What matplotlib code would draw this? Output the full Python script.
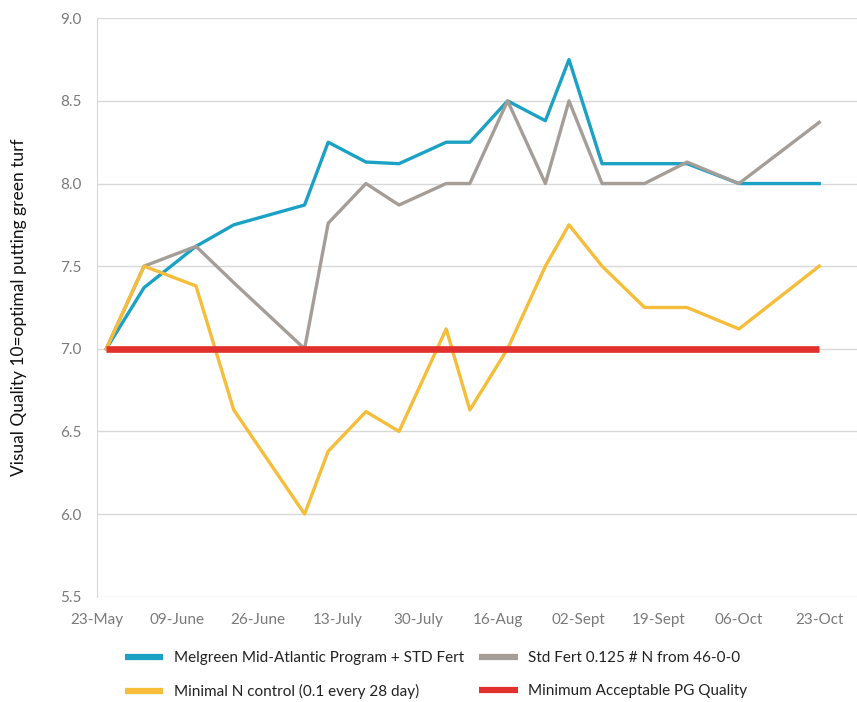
import matplotlib
matplotlib.use("Agg")
import matplotlib.pyplot as plt
import pandas as pd

# rating dates and visual quality ratings
dates = ["2016-05-25", "2016-06-02", "2016-06-13", "2016-06-21", "2016-07-06",
         "2016-07-11", "2016-07-19", "2016-07-26", "2016-08-05", "2016-08-10",
         "2016-08-18", "2016-08-26", "2016-08-31", "2016-09-07", "2016-09-16",
         "2016-09-25", "2016-10-06", "2016-10-23"]
melgreen = [7.0, 7.37, 7.62, 7.75, 7.87, 8.25, 8.13, 8.12, 8.25, 8.25,
            8.5, 8.38, 8.75, 8.12, 8.12, 8.12, 8.0, 8.0]
std_fert = [7.0, 7.5, 7.62, 7.4, 7.0, 7.76, 8.0, 7.87, 8.0, 8.0,
            8.5, 8.0, 8.5, 8.0, 8.0, 8.13, 8.0, 8.37]
minimal_n = [7.0, 7.5, 7.38, 6.63, 6.0, 6.38, 6.62, 6.5, 7.12, 6.63,
             7.0, 7.5, 7.75, 7.5, 7.25, 7.25, 7.12, 7.5]
min_acceptable = [7.0] * len(dates)

tick_dates = ["2016-05-23", "2016-06-09", "2016-06-26", "2016-07-13", "2016-07-30",
              "2016-08-16", "2016-09-02", "2016-09-19", "2016-10-06", "2016-10-23"]
tick_labels = ["23-May", "09-June", "26-June", "13-July", "30-July",
               "16-Aug", "02-Sept", "19-Sept", "06-Oct", "23-Oct"]
y_ticks = [5.5, 6.0, 6.5, 7.0, 7.5, 8.0, 8.5, 9.0]

labels = ["Melgreen Mid-Atlantic Program + STD Fert",
          "Std Fert 0.125 # N from 46-0-0",
          "Minimal N control (0.1 every 28 day)",
          "Minimum Acceptable PG Quality"]
colors = ["#1ba1c3", "#a49d98", "#f6bd3a", "#e2312c"]

plt.rcParams["font.family"] = ["Lato", "DejaVu Sans"]

x = pd.to_datetime(dates)
fig = plt.figure(figsize=(8.57, 7.02), dpi=100)
ax = fig.add_axes([0.113, 0.150, 0.887, 0.824])

l_blue, = ax.plot(x, melgreen, color=colors[0], lw=2.4, label=labels[0], zorder=3)
l_gray, = ax.plot(x, std_fert, color=colors[1], lw=2.4, label=labels[1], zorder=3)
l_yel, = ax.plot(x, minimal_n, color=colors[2], lw=2.4, label=labels[2], zorder=3)
l_red, = ax.plot(x, min_acceptable, color=colors[3], lw=4.8, label=labels[3],
                 solid_capstyle="butt", zorder=4)

ax.set_ylim(5.5, 9.0)
ax.set_yticks(y_ticks)
ax.set_yticklabels([f"{v:.1f}" for v in y_ticks])
ax.set_xlim(pd.Timestamp("2016-05-23"), pd.Timestamp("2016-10-31"))
ax.set_xticks(pd.to_datetime(tick_dates))
ax.set_xticklabels(tick_labels)

ax.grid(axis="y", color="#d9d9d9", lw=1)
ax.set_axisbelow(True)
for s in ["top", "right", "bottom"]:
    ax.spines[s].set_visible(False)
ax.spines["left"].set_color("#d9d9d9")
ax.tick_params(length=0, labelsize=11, labelcolor="#7a7a7a")
ax.tick_params(axis="y", pad=11)
ax.tick_params(axis="x", pad=12)

ax.set_ylabel("Visual Quality 10=optimal putting green turf", fontsize=12.5,
              color="#111111", labelpad=24)

leg = fig.legend([l_blue, l_yel, l_gray, l_red],
                 [labels[0], labels[2], labels[1], labels[3]],
                 ncol=2, loc="center", bbox_to_anchor=(0.509, 0.038), frameon=False,
                 fontsize=11, handlelength=2.5, handletextpad=0.7, columnspacing=1.0,
                 labelspacing=1.25, labelcolor="#222222")
for h in leg.get_lines():
    h.set_linewidth(4.5)
    h.set_solid_capstyle("butt")

fig.savefig("out.png", dpi=100)
